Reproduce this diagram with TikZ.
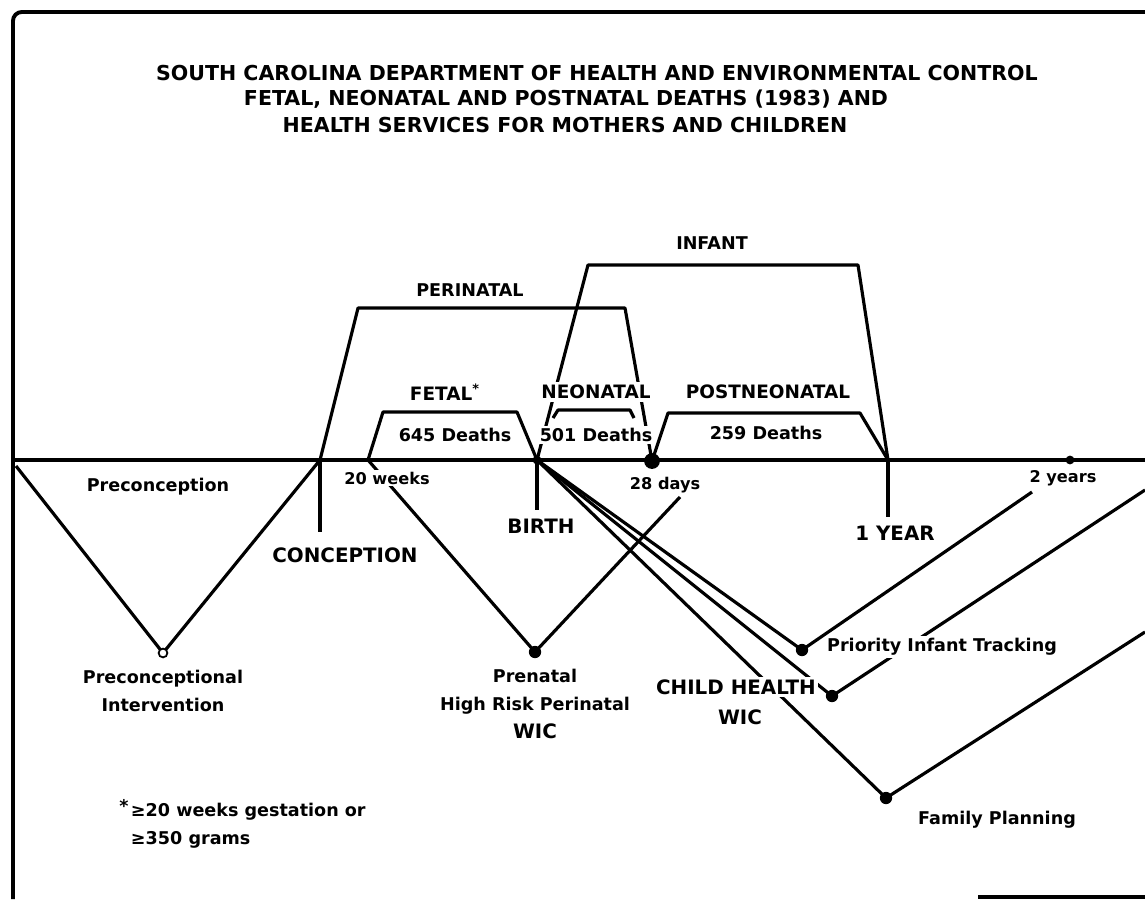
\documentclass[tikz,border=0pt]{standalone}
\usepackage{fontspec}
\setmainfont{DejaVu Sans}

\begin{document}
\begin{tikzpicture}[x=0.02cm,y=-0.02cm,
    period/.style={line width=1.8pt,line join=round},
    heading/.style={font=\bfseries\fontsize{11.7}{14}\selectfont},
    lbl/.style={font=\bfseries\fontsize{10}{16}\selectfont,fill=white,inner sep=1.5pt,align=center},
    big/.style={font=\bfseries\fontsize{11.3}{17}\selectfont,fill=white,inner sep=1.5pt,align=center},
    tiny/.style={font=\bfseries\fontsize{9.2}{11}\selectfont,fill=white,inner sep=1pt},
    spot/.style={circle,fill,inner sep=0pt,minimum size=#1},
    spot/.default=7pt]
    \useasboundingbox (0,0) rectangle (1145,899);

    % frame
    \draw[line width=2.2pt,rounded corners=5pt] (1145,12) -- (13,12) -- (13,899);
    \draw[line width=2.2pt] (978,897) -- (1145,897);

    % title
    \node[heading] (title1) at (597,73) {SOUTH CAROLINA DEPARTMENT OF HEALTH AND ENVIRONMENTAL CONTROL};
    \node[heading] (title2) at (566,99) {FETAL, NEONATAL AND POSTNATAL DEATHS (1983) AND};
    \node[heading] (title3) at (565,125) {HEALTH SERVICES FOR MOTHERS AND CHILDREN};

    % time line
    \coordinate (start) at (13,460);
    \coordinate (finish) at (1145,460);
    \coordinate (concep) at (320,460);
    \coordinate (wk20) at (368,460);
    \coordinate (birth) at (537,460);
    \coordinate (day28) at (652,461);
    \coordinate (year1) at (888,460);
    \coordinate (year2) at (1070,460);
    \draw[line width=2.5pt] (start) -- (finish);
    \draw[period] (concep) -- ++(0,72);
    \draw[period] (birth) -- ++(0,50);
    \draw[period] (year1) -- ++(0,57);

    % periods above the line
    \draw[period] (concep) -- (358,308) -- (625,308) -- (day28);
    \draw[period] (birth) -- (588,265) -- (858,265) -- (year1);
    \draw[period] (wk20) -- (383,412) -- (517,412) -- (birth);
    \draw[period] (553,418) -- (558,410) -- (630,410) -- (634,418);
    \draw[period] (day28) -- (668,413) -- (860,413) -- (year1);

    % services below the line
    \coordinate (precv) at (163,653);
    \coordinate (prenv) at (535,652);
    \coordinate (pitv) at (802,650);
    \coordinate (chv) at (832,696);
    \coordinate (fpv) at (886,798);
    \draw[period] (16,466) -- (precv) -- (concep);
    \draw[period] (wk20) -- (prenv) -- (680,497);
    \draw[period] (birth) -- (pitv) -- (1032,492);
    \draw[period] (birth) -- (chv) -- (1145,490);
    \draw[period] (birth) -- (fpv) -- (1145,632);

    % labels
    \node[lbl] (perinatal) at (470,290) {PERINATAL};
    \node[lbl] (infant) at (712,243) {INFANT};
    \node[lbl,font=\bfseries\fontsize{10.5}{12}\selectfont] (fetal) at (445,392) {FETAL\textsuperscript{*}};
    \node[lbl,font=\bfseries\fontsize{10.5}{12}\selectfont] (neonatal) at (596,392) {NEONATAL};
    \node[lbl,font=\bfseries\fontsize{10.5}{12}\selectfont] (postneo) at (768,392) {POSTNEONATAL};
    \node[lbl] (fetaln) at (455,435) {645 Deaths};
    \node[lbl] (neon) at (596,435) {501 Deaths};
    \node[lbl] (postn) at (766,433) {259 Deaths};

    \node[lbl] (precon) at (158,487) {Preconception};
    \node[tiny] (wk20l) at (387,478) {20 weeks};
    \node[tiny] (day28l) at (665,485) {28 days};
    \node[tiny] (year2l) at (1063,478) {2 years};
    \node[big] (concepl) at (345,555) {CONCEPTION};
    \node[big] (birthl) at (541,526) {BIRTH};
    \node[big] (year1l) at (895,533) {1 YEAR};

    \node[lbl] (precl) at (163,691) {Preconceptional\\Intervention};
    \node[lbl] (prenl) at (535,704) {Prenatal\\High Risk Perinatal\\{\fontsize{11.3}{14}\selectfont WIC}};
    \node[lbl] (pitl) at (942,647) {Priority Infant Tracking};
    \node[big] (chl) at (736,687) {CHILD HEALTH};
    \node[big] (wicl) at (740,717) {WIC};
    \node[lbl] (fpl) at (997,820) {Family Planning};

    % footnote
    \node[lbl,fill=none] (star) at (124,806) {*};
    \node[lbl,fill=none,anchor=west,align=left] (note) at (128,826) {≥20 weeks gestation or\\≥350 grams};

    % points
    \node[spot=5pt] (birthp) at (birth) {};
    \node[spot=9pt] (day28p) at (day28) {};
    \node[spot=5pt] (year2p) at (year2) {};
    \node[spot=5pt,fill=white,draw,line width=1pt] (precp) at (precv) {};
    \node[spot] (prenp) at (prenv) {};
    \node[spot] (pitp) at (pitv) {};
    \node[spot] (chp) at (chv) {};
    \node[spot] (fpp) at (fpv) {};
\end{tikzpicture}
\end{document}
